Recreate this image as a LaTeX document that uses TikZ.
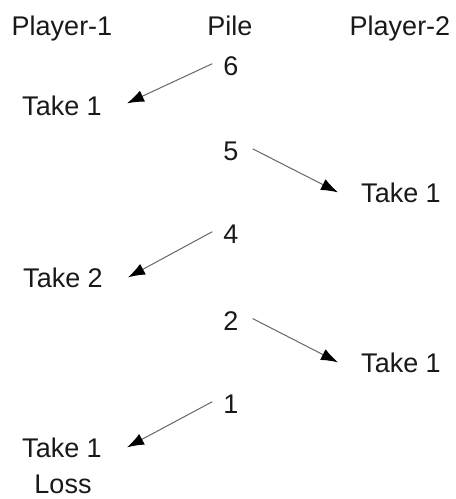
\documentclass[tikz,border=0pt]{standalone}
\usepackage{fontspec}
\setmainfont{Liberation Sans}
\usepackage{tikz}
\usetikzlibrary{arrows.meta}

\begin{document}
\begin{tikzpicture}[x=1pt, y=-1pt,
    every node/.style={inner sep=0pt, anchor=base, text=black!90, font=\fontsize{27}{32}\selectfont},
    move/.style={draw=black!60, line width=1pt, -{Latex[length=17pt, width=12pt, color=black]}}]
    \useasboundingbox (0,0) rectangle (456,499);

    % column heads
    \node (HeadA) at (62,35) {Player-1};
    \node (HeadPile) at (230,35) {Pile};
    \node (HeadB) at (400,35) {Player-2};

    % pile sizes
    \node (Pile6) at (231,75) {6};
    \node (Pile5) at (231,160) {5};
    \node (Pile4) at (231,243) {4};
    \node (Pile2) at (231,330) {2};
    \node (Pile1) at (231,413) {1};

    % moves
    \node (MoveA1) at (62,115) {Take 1};
    \node (MoveB1) at (401,202) {Take 1};
    \node (MoveA2) at (63,287) {Take 2};
    \node (MoveB2) at (401,372) {Take 1};
    \node (MoveA3) at (62,457) {Take 1};
    \node (Loss) at (63,493) {Loss};

    \draw[move] ([xshift=-11pt,yshift=2pt]Pile6.west) -- ([xshift=25pt,yshift=2pt]MoveA1.east);
    \draw[move] ([xshift=14pt,yshift=2pt]Pile5.east) -- ([xshift=-23pt]MoveB1.west);
    \draw[move] ([xshift=-11pt,yshift=2pt]Pile4.west) -- ([xshift=25pt]MoveA2.east);
    \draw[move] ([xshift=14pt,yshift=2pt]Pile2.east) -- ([xshift=-23pt]MoveB2.west);
    \draw[move] ([xshift=-11pt,yshift=2pt]Pile1.west) -- ([xshift=25pt]MoveA3.east);
\end{tikzpicture}
\end{document}
